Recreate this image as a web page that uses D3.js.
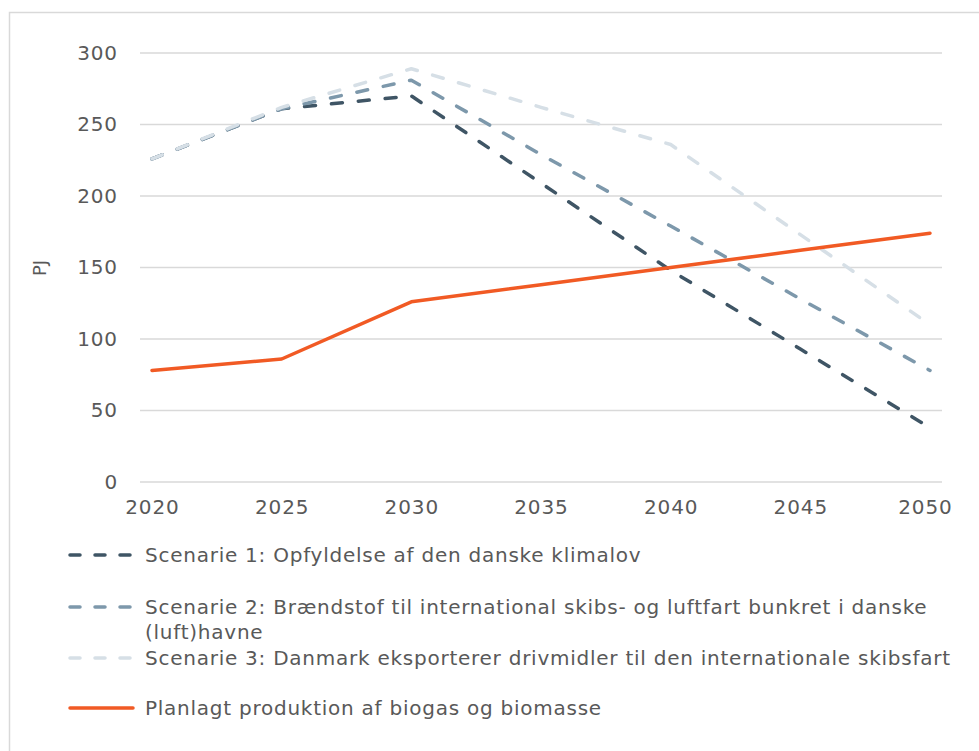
<!DOCTYPE html>
<html lang="da">
<head>
<meta charset="utf-8">
<title>Biogas og biomasse</title>
<script src="https://d3js.org/d3.v7.min.js"></script>
<style>
  body { margin: 0; background: #fff; }
  svg { display: block; font-family: "DejaVu Sans", Verdana, sans-serif; }
</style>
</head>
<body>
<svg id="chart" width="979" height="751"></svg>
<script>
// data
var years = [2020, 2025, 2030, 2035, 2040, 2045, 2050];
var scenarie1 = [226, 261, 270, 209, 148, 93, 38];
var scenarie2 = [226, 261, 281, 229, 179, 128, 78];
var scenarie3 = [226, 262, 289, 262, 236, 173, 110];
var biogas = [78, 86, 126, 138, 150, 162, 174];
var yTicks = [0, 50, 100, 150, 200, 250, 300];
var labels = [
  "Scenarie 1: Opfyldelse af den danske klimalov",
  "Scenarie 2: Brændstof til international skibs- og luftfart bunkret i danske (luft)havne",
  "Scenarie 3: Danmark eksporterer drivmidler til den internationale skibsfart",
  "Planlagt produktion af biogas og biomasse"
];

var series = [
  { name: labels[0], values: scenarie1, color: "#3f5565", dash: true },
  { name: labels[1], values: scenarie2, color: "#7d98ab", dash: true },
  { name: labels[2], values: scenarie3, color: "#d6dfe6", dash: true },
  { name: labels[3], values: biogas, color: "#f15a24", dash: false }
];

var svg = d3.select("#chart");
var textColor = "#595959";

// outer frame (only left and top visible)
svg.append("path")
  .attr("d", "M9.5,760 V12.5 H990")
  .attr("fill", "none")
  .attr("stroke", "#d9d9d9")
  .attr("stroke-width", 1.5);

var x = d3.scaleLinear().domain([2020, 2050]).range([152, 930]);
var y = d3.scaleLinear().domain([0, 300]).range([482, 53]);

// gridlines
svg.append("g").selectAll("line")
  .data(yTicks).enter().append("line")
  .attr("x1", 140).attr("x2", 942)
  .attr("y1", d => y(d)).attr("y2", d => y(d))
  .attr("stroke", "#d9d9d9")
  .attr("stroke-width", 1.5);

// y axis labels
var yAxis = svg.append("g")
  .attr("transform", "translate(128,0)")
  .call(d3.axisLeft(y).tickValues(yTicks).tickSize(0).tickPadding(10));
yAxis.select(".domain").remove();
yAxis.selectAll("text")
  .attr("fill", textColor)
  .style("font-size", "20px")
  .style("letter-spacing", "0.9px")
  .style("font-family", "DejaVu Sans, Verdana, sans-serif");

// x axis labels
var xAxis = svg.append("g")
  .attr("transform", "translate(0,482)")
  .call(d3.axisBottom(x).tickValues(years).tickFormat(d3.format("d")).tickSize(0).tickPadding(18));
xAxis.select(".domain").remove();
xAxis.selectAll("text")
  .attr("fill", textColor)
  .style("font-size", "20px")
  .style("letter-spacing", "0.9px")
  .style("font-family", "DejaVu Sans, Verdana, sans-serif");
xAxis.selectAll(".tick").filter(d => d === 2050).select("text").attr("dx", -5);

// y axis title
svg.append("text")
  .attr("transform", "translate(46,268) rotate(-90)")
  .attr("text-anchor", "middle")
  .attr("fill", textColor)
  .style("font-size", "18px")
  .text("PJ");

// lines, drawn in series order so the orange line ends on top
var line = d3.line()
  .x((d, i) => x(years[i]))
  .y(d => y(d));

svg.append("g").selectAll("path")
  .data(series)
  .enter().append("path")
  .attr("d", d => line(d.values))
  .attr("fill", "none")
  .attr("stroke", d => d.color)
  .attr("stroke-width", 3.5)
  .attr("stroke-linecap", "round")
  .attr("stroke-linejoin", "round")
  .attr("stroke-dasharray", d => d.dash ? "11,16" : null);

// legend
var legendRows = [
  { s: series[0], y: 555, lines: [labels[0]] },
  { s: series[1], y: 607, lines: ["Scenarie 2: Brændstof til international skibs- og luftfart bunkret i danske", "(luft)havne"] },
  { s: series[2], y: 658, lines: [labels[2]] },
  { s: series[3], y: 708, lines: [labels[3]] }
];

var legend = svg.append("g");
legendRows.forEach(function (row) {
  legend.append("line")
    .attr("x1", 70).attr("x2", 133)
    .attr("y1", row.y).attr("y2", row.y)
    .attr("stroke", row.s.color)
    .attr("stroke-width", 3.5)
    .attr("stroke-linecap", "round")
    .attr("stroke-dasharray", row.s.dash ? "10,15" : null);
  var t = legend.append("text")
    .attr("x", 145)
    .attr("y", row.y + 7)
    .attr("fill", textColor)
    .style("font-size", "20px")
    .style("letter-spacing", "0.75px");
  row.lines.forEach(function (l, i) {
    t.append("tspan").attr("x", 145).attr("dy", i === 0 ? 0 : 25).text(l);
  });
});
</script>
</body>
</html>
